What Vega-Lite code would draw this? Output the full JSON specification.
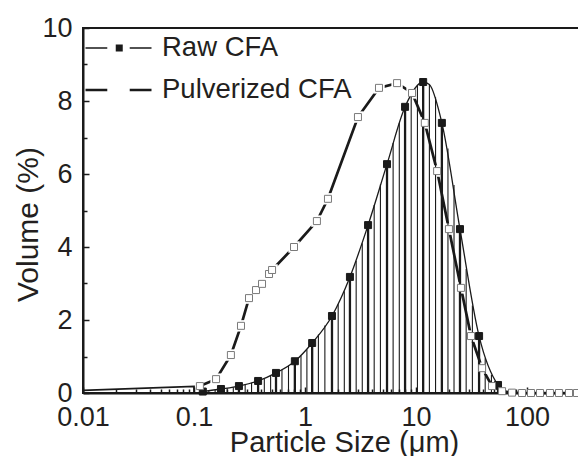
{
  "$schema": "https://vega.github.io/schema/vega-lite/v6.json",
  "width": 496,
  "height": 365,
  "autosize": {"type": "none"},
  "padding": {"left": 83, "top": 28, "right": 0, "bottom": 63},
  "background": "white",
  "config": {
    "view": {"stroke": "#1a1a1a", "strokeWidth": 2},
    "font": "Liberation Sans",
    "axis": {
      "domainColor": "#1a1a1a", "domainWidth": 2,
      "tickColor": "#1a1a1a", "tickWidth": 1.5,
      "labelFont": "Liberation Sans", "labelFontSize": 27, "labelColor": "#231f20",
      "titleFont": "Liberation Sans", "titleFontWeight": "normal", "titleColor": "#231f20",
      "grid": false
    },
    "legend": {"padding": 0, "labelFont": "Liberation Sans", "labelLimit": 400}
  },
  "datasets": {
    "pts": [
      {"series": "Raw CFA", "size": 0.12, "volume": 0.04},
      {"series": "Raw CFA", "size": 0.175, "volume": 0.11},
      {"series": "Raw CFA", "size": 0.254, "volume": 0.19},
      {"series": "Raw CFA", "size": 0.378, "volume": 0.33},
      {"series": "Raw CFA", "size": 0.548, "volume": 0.55},
      {"series": "Raw CFA", "size": 0.81, "volume": 0.87},
      {"series": "Raw CFA", "size": 1.16, "volume": 1.37},
      {"series": "Raw CFA", "size": 1.75, "volume": 2.11},
      {"series": "Raw CFA", "size": 2.54, "volume": 3.18},
      {"series": "Raw CFA", "size": 3.7, "volume": 4.6},
      {"series": "Raw CFA", "size": 5.48, "volume": 6.27},
      {"series": "Raw CFA", "size": 7.97, "volume": 7.84},
      {"series": "Raw CFA", "size": 11.6, "volume": 8.52},
      {"series": "Raw CFA", "size": 17.1, "volume": 7.4},
      {"series": "Raw CFA", "size": 24.9, "volume": 4.49},
      {"series": "Raw CFA", "size": 37.0, "volume": 1.56},
      {"series": "Raw CFA", "size": 54.8, "volume": 0.22},
      {"series": "Pulverized CFA", "size": 0.113, "volume": 0.19},
      {"series": "Pulverized CFA", "size": 0.158, "volume": 0.38},
      {"series": "Pulverized CFA", "size": 0.215, "volume": 1.04},
      {"series": "Pulverized CFA", "size": 0.265, "volume": 1.84},
      {"series": "Pulverized CFA", "size": 0.313, "volume": 2.6},
      {"series": "Pulverized CFA", "size": 0.362, "volume": 2.82},
      {"series": "Pulverized CFA", "size": 0.41, "volume": 2.99},
      {"series": "Pulverized CFA", "size": 0.474, "volume": 3.26},
      {"series": "Pulverized CFA", "size": 0.505, "volume": 3.37},
      {"series": "Pulverized CFA", "size": 0.796, "volume": 4.0},
      {"series": "Pulverized CFA", "size": 1.28, "volume": 4.71},
      {"series": "Pulverized CFA", "size": 1.61, "volume": 5.32},
      {"series": "Pulverized CFA", "size": 3.0, "volume": 7.56},
      {"series": "Pulverized CFA", "size": 4.64, "volume": 8.36},
      {"series": "Pulverized CFA", "size": 6.75, "volume": 8.49},
      {"series": "Pulverized CFA", "size": 9.21, "volume": 8.22},
      {"series": "Pulverized CFA", "size": 12.0, "volume": 7.4},
      {"series": "Pulverized CFA", "size": 15.5, "volume": 6.08},
      {"series": "Pulverized CFA", "size": 19.8, "volume": 4.49},
      {"series": "Pulverized CFA", "size": 25.4, "volume": 2.88},
      {"series": "Pulverized CFA", "size": 31.3, "volume": 1.56},
      {"series": "Pulverized CFA", "size": 39.4, "volume": 0.68},
      {"series": "Pulverized CFA", "size": 48.4, "volume": 0.19},
      {"series": "Pulverized CFA", "size": 59.6, "volume": 0.05},
      {"series": "Pulverized CFA", "size": 73.3, "volume": 0.01},
      {"series": "Pulverized CFA", "size": 90.2, "volume": 0},
      {"series": "Pulverized CFA", "size": 108.6, "volume": 0},
      {"series": "Pulverized CFA", "size": 131, "volume": 0},
      {"series": "Pulverized CFA", "size": 161, "volume": 0},
      {"series": "Pulverized CFA", "size": 194, "volume": 0},
      {"series": "Pulverized CFA", "size": 239, "volume": 0},
      {"series": "Pulverized CFA", "size": 282, "volume": 0}
    ],
    "rawCurve": [
      {"series": "Raw CFA", "size": 0.12, "volume": 0.04},
      {"series": "Raw CFA", "size": 0.175, "volume": 0.11},
      {"series": "Raw CFA", "size": 0.254, "volume": 0.19},
      {"series": "Raw CFA", "size": 0.378, "volume": 0.33},
      {"series": "Raw CFA", "size": 0.548, "volume": 0.55},
      {"series": "Raw CFA", "size": 0.81, "volume": 0.87},
      {"series": "Raw CFA", "size": 1.16, "volume": 1.37},
      {"series": "Raw CFA", "size": 1.75, "volume": 2.11},
      {"series": "Raw CFA", "size": 2.54, "volume": 3.18},
      {"series": "Raw CFA", "size": 3.7, "volume": 4.6},
      {"series": "Raw CFA", "size": 5.48, "volume": 6.27},
      {"series": "Raw CFA", "size": 7.97, "volume": 7.84},
      {"series": "Raw CFA", "size": 11.6, "volume": 8.52},
      {"series": "Raw CFA", "size": 13.2, "volume": 8.45},
      {"series": "Raw CFA", "size": 17.1, "volume": 7.4},
      {"series": "Raw CFA", "size": 24.9, "volume": 4.49},
      {"series": "Raw CFA", "size": 37.0, "volume": 1.56},
      {"series": "Raw CFA", "size": 54.8, "volume": 0.22},
      {"series": "Raw CFA", "size": 66, "volume": 0.0},
      {"series": "Raw CFA", "size": 290, "volume": 0.0}
    ],
    "hatch": [
      {"size": 0.136, "volume": 0.06}, {"size": 0.155, "volume": 0.08},
      {"size": 0.199, "volume": 0.13}, {"size": 0.226, "volume": 0.16},
      {"size": 0.289, "volume": 0.23}, {"size": 0.33, "volume": 0.28},
      {"size": 0.43, "volume": 0.39}, {"size": 0.49, "volume": 0.47},
      {"size": 0.62, "volume": 0.64}, {"size": 0.71, "volume": 0.75},
      {"size": 0.92, "volume": 1.02}, {"size": 1.04, "volume": 1.19},
      {"size": 1.32, "volume": 1.6}, {"size": 1.51, "volume": 1.85},
      {"size": 1.99, "volume": 2.43}, {"size": 2.26, "volume": 2.79},
      {"size": 2.89, "volume": 3.62}, {"size": 3.28, "volume": 4.1},
      {"size": 4.2, "volume": 5.15}, {"size": 4.78, "volume": 5.72},
      {"size": 6.22, "volume": 6.85}, {"size": 7.07, "volume": 7.4},
      {"size": 9.05, "volume": 8.17}, {"size": 10.3, "volume": 8.42},
      {"size": 13.2, "volume": 8.45}, {"size": 15.0, "volume": 8.1},
      {"size": 19.4, "volume": 6.7}, {"size": 22.0, "volume": 5.7},
      {"size": 28.3, "volume": 3.4}, {"size": 32.2, "volume": 2.4},
      {"size": 42.0, "volume": 0.95}, {"size": 47.8, "volume": 0.5},
      {"size": 62, "volume": 0.08}
    ],
    "lowSeg": [
      {"size": 0.01, "volume": 0.07, "order": 1},
      {"size": 0.1, "volume": 0.18, "order": 2},
      {"size": 0.1, "volume": 0.0, "order": 3}
    ]
  },
  "encoding": {
    "x": {
      "field": "size", "type": "quantitative",
      "scale": {"type": "log", "domain": [0.01, 294], "nice": false},
      "axis": {
        "title": "Particle Size (μm)",
        "titleFontSize": 29,
        "titleX": 261, "titleY": 58, "titleBaseline": "alphabetic",
        "values": [0.01,0.02,0.03,0.04,0.05,0.06,0.07,0.08,0.09,0.1,0.2,0.3,0.4,0.5,0.6,0.7,0.8,0.9,1,2,3,4,5,6,7,8,9,10,20,30,40,50,60,70,80,90,100,200],
        "format": "~g",
        "labelExpr": "indexof([0.01,0.1,1,10,100], datum.value) >= 0 ? datum.label : ''",
        "labelBaseline": "alphabetic",
        "labelPadding": 38,
        "labelFlush": false,
        "labelOverlap": false,
        "tickSize": {"condition": {"test": "indexof([0.01,0.1,1,10,100], datum.value) < 0", "value": -4}, "value": -6}
      }
    },
    "y": {
      "field": "volume", "type": "quantitative",
      "scale": {"domain": [0, 10], "nice": false, "zero": true},
      "axis": {
        "title": "Volume (%)",
        "titleFontSize": 30,
        "titleX": -46, "titleY": 196, "titleBaseline": "alphabetic",
        "values": [0,1,2,3,4,5,6,7,8,9,10],
        "labelExpr": "datum.value % 2 === 0 ? datum.label : ''",
        "labelPadding": 17,
        "labelOverlap": false,
        "tickSize": {"condition": {"test": "datum.value % 2 !== 0", "value": -4}, "value": -6}
      }
    }
  },
  "layer": [
    {
      "data": {"name": "pts"},
      "transform": [{"filter": "datum.series === 'Pulverized CFA'"}],
      "mark": {"type": "line", "stroke": "#1a1a1a"},
      "encoding": {
        "strokeWidth": {
          "field": "series", "type": "nominal",
          "scale": {"type": "point", "domain": ["Raw CFA", "Pulverized CFA"], "range": [1.3, 2.7], "padding": 0},
          "legend": {
            "title": null, "orient": "none", "legendX": 1, "legendY": 6,
            "symbolType": "M-1,0H-0.34M0.34,0H1",
            "symbolSize": 4356, "symbolStrokeColor": "#1a1a1a", "symbolFillColor": "transparent",
            "labelFontSize": 27.5, "labelColor": "#231f20", "labelOffset": 9,
            "clipHeight": 28, "rowPadding": 14
          }
        }
      }
    },
    {
      "data": {"name": "pts"},
      "transform": [{"filter": "datum.series === 'Pulverized CFA' && datum.volume > 0.3"}],
      "mark": {"type": "point", "shape": "square", "filled": true, "fill": "white", "stroke": null, "opacity": 1, "size": 130},
      "encoding": {}
    },
    {
      "data": {"name": "hatch"},
      "mark": {"type": "rule", "stroke": "#1a1a1a", "strokeWidth": 1.1},
      "encoding": {"y2": {"datum": 0}}
    },
    {
      "data": {"name": "pts"},
      "transform": [{"filter": "datum.series === 'Raw CFA'"}],
      "mark": {"type": "rule", "stroke": "#1a1a1a", "strokeWidth": 2.3},
      "encoding": {"y2": {"datum": 0}}
    },
    {
      "data": {"name": "lowSeg"},
      "mark": {"type": "line", "stroke": "#1a1a1a", "strokeWidth": 1.8},
      "encoding": {"order": {"field": "order"}}
    },
    {
      "data": {"name": "rawCurve"},
      "mark": {"type": "line", "stroke": "#1a1a1a", "interpolate": "monotone"},
      "encoding": {
        "strokeWidth": {"field": "series", "type": "nominal"}
      }
    },
    {
      "data": {"name": "pts"},
      "mark": {"type": "point", "shape": "square", "opacity": 1, "size": 49, "strokeWidth": 1},
      "encoding": {
        "fill": {
          "field": "series", "type": "nominal", "sort": ["Raw CFA", "Pulverized CFA"],
          "scale": {"range": ["#1a1a1a", "white"]},
          "legend": {
            "title": null, "orient": "none", "legendX": 22.5, "legendY": 6,
            "symbolType": "square", "symbolSize": 49, "symbolStrokeWidth": 1,
            "labelFontSize": 27.5, "labelExpr": "''", "labelOffset": 40,
            "clipHeight": 28, "rowPadding": 14
          }
        },
        "stroke": {
          "field": "series", "type": "nominal", "sort": ["Raw CFA", "Pulverized CFA"],
          "scale": {"range": ["#1a1a1a", "#7a7a7a"]}
        }
      }
    }
  ]
}
